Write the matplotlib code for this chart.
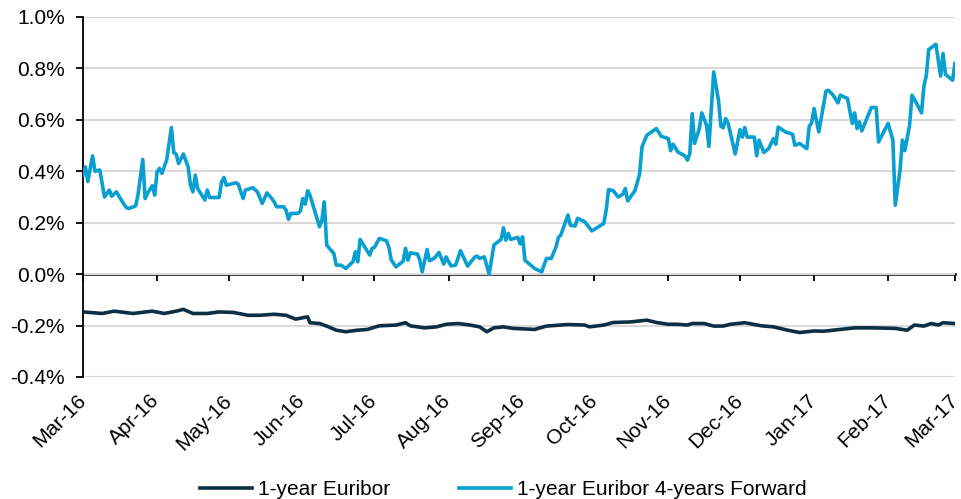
import pandas as pd
import matplotlib
matplotlib.use("Agg")
import matplotlib.pyplot as plt
import matplotlib.dates as mdates
import matplotlib.transforms as mtransforms
from matplotlib.ticker import FuncFormatter

START = pd.Timestamp("2016-03-01")

# 1-year Euribor 4-years Forward, % (days after 1 Mar 2016, value)
fwd_day = [0, 1, 2, 4, 5, 7, 9, 11, 12, 14, 16, 18, 19, 22, 23, 25, 26, 27, 29, 30,
           31, 32, 33, 35, 37, 38, 39, 40, 42, 44, 45, 46, 47, 48, 51, 52, 53, 57, 58, 59,
           60, 64, 65, 67, 68, 71, 73, 75, 77, 79, 80, 81, 84, 85, 86, 87, 90, 91, 92, 93,
           94, 95, 99, 100, 101, 102, 105, 106, 108, 110, 113, 114, 115, 116, 120, 121, 122, 124, 127, 128,
           129, 131, 134, 135, 136, 137, 140, 141, 142, 144, 145, 147, 149, 151, 152, 154, 156, 158, 161, 164,
           165, 166, 168, 170, 172, 175, 176, 177, 178, 179, 182, 183, 184, 185, 189, 192, 194, 196, 198, 199,
           200, 203, 204, 206, 207, 210, 213, 218, 219, 220, 222, 224, 226, 227, 228, 231, 232, 233, 234, 236,
           238, 240, 242, 245, 246, 247, 249, 252, 253, 254, 255, 256, 258, 259, 261, 262, 264, 266, 267, 268,
           269, 270, 273, 275, 276, 277, 278, 281, 282, 283, 285, 287, 289, 290, 291, 294, 297, 298, 300, 303,
           304, 305, 306, 308, 311, 312, 314, 316, 317, 320, 322, 323, 324, 325, 326, 330, 332, 333, 337, 339,
           340, 342, 343, 344, 346, 347, 349, 351, 352, 353, 354, 357, 359, 360, 361, 364, 365]
fwd_val = [0.385, 0.417, 0.36, 0.46, 0.40, 0.405, 0.30, 0.327, 0.303, 0.32, 0.288, 0.26, 0.255, 0.265, 0.307, 0.446, 0.294, 0.314, 0.344, 0.307,
           0.398, 0.411, 0.392, 0.443, 0.57, 0.472, 0.467, 0.43, 0.467, 0.417, 0.346, 0.32, 0.385, 0.333, 0.288, 0.327, 0.298, 0.298, 0.359, 0.376,
           0.346, 0.355, 0.35, 0.294, 0.327, 0.336, 0.32, 0.275, 0.316, 0.294, 0.281, 0.262, 0.262, 0.249, 0.213, 0.236, 0.236, 0.246, 0.294, 0.272,
           0.324, 0.307, 0.184, 0.21, 0.281, 0.113, 0.08, 0.035, 0.035, 0.022, 0.048, 0.087, 0.048, 0.135, 0.074, 0.10, 0.104, 0.139, 0.13, 0.106,
           0.056, 0.028, 0.05, 0.10, 0.054, 0.083, 0.078, 0.054, 0.009, 0.096, 0.052, 0.061, 0.084, 0.039, 0.067, 0.032, 0.035, 0.091, 0.031, 0.067,
           0.07, 0.061, 0.067, 0.0, 0.113, 0.135, 0.18, 0.132, 0.158, 0.135, 0.143, 0.117, 0.145, 0.054, 0.022, 0.009, 0.061, 0.061, 0.106, 0.143,
           0.152, 0.23, 0.19, 0.187, 0.217, 0.204, 0.168, 0.197, 0.249, 0.329, 0.324, 0.30, 0.311, 0.333, 0.285, 0.324, 0.355, 0.391, 0.495, 0.54,
           0.553, 0.566, 0.536, 0.527, 0.48, 0.505, 0.475, 0.459, 0.443, 0.469, 0.624, 0.508, 0.566, 0.627, 0.579, 0.497, 0.786, 0.676, 0.575, 0.569,
           0.605, 0.588, 0.467, 0.562, 0.533, 0.57, 0.533, 0.533, 0.46, 0.521, 0.473, 0.488, 0.527, 0.505, 0.572, 0.553, 0.544, 0.501, 0.508, 0.488,
           0.575, 0.588, 0.644, 0.553, 0.712, 0.715, 0.696, 0.666, 0.696, 0.683, 0.586, 0.627, 0.566, 0.592, 0.557, 0.648, 0.648, 0.514, 0.586, 0.521,
           0.268, 0.404, 0.521, 0.48, 0.579, 0.696, 0.663, 0.627, 0.731, 0.773, 0.873, 0.894, 0.77, 0.858, 0.777, 0.754, 0.819]

# 1-year Euribor, %
eur_day = [0, 8, 13, 21, 29, 34, 39, 42, 46, 52, 57, 63, 69, 74, 80, 85, 89, 94, 95, 99,
           102, 106, 110, 115, 119, 124, 131, 135, 137, 143, 148, 152, 157, 162, 166, 169, 172, 176, 180, 189,
           194, 203, 210, 212, 218, 222, 229, 236, 240, 245, 249, 253, 255, 260, 264, 268, 271, 277, 284, 289,
           295, 300, 306, 310, 317, 323, 331, 340, 345, 348, 352, 355, 358, 360, 365]
eur_val = [-0.147, -0.153, -0.144, -0.153, -0.144, -0.153, -0.144, -0.137, -0.153, -0.153, -0.147, -0.149, -0.16, -0.16, -0.156, -0.16, -0.175, -0.166, -0.189, -0.192,
           -0.202, -0.218, -0.224, -0.218, -0.215, -0.201, -0.198, -0.189, -0.201, -0.209, -0.205, -0.195, -0.192, -0.198, -0.205, -0.224, -0.209, -0.205, -0.211, -0.215,
           -0.202, -0.196, -0.198, -0.205, -0.198, -0.188, -0.186, -0.179, -0.188, -0.195, -0.195, -0.198, -0.192, -0.192, -0.202, -0.202, -0.195, -0.189, -0.201, -0.205,
           -0.218, -0.227, -0.221, -0.222, -0.215, -0.209, -0.209, -0.211, -0.218, -0.198, -0.202, -0.192, -0.198, -0.189, -0.192]

fwd_dates = START + pd.to_timedelta(fwd_day, unit="D")
eur_dates = START + pd.to_timedelta(eur_day, unit="D")

plt.rcParams['font.family'] = ['Liberation Sans', 'DejaVu Sans']

fig = plt.figure(figsize=(9.62, 4.99), dpi=100)
ax = fig.add_axes([0.0863, 0.2445, 0.9064, 0.7215])

ax.plot(eur_dates, eur_val, color='#0c2f45', lw=2.6, label='1-year Euribor', zorder=3)
ax.plot(fwd_dates, fwd_val, color='#0a9fd1', lw=2.6, label='1-year Euribor 4-years Forward', zorder=3)

ax.set_ylim(-0.4, 1.0)
ax.set_yticks([-0.4, -0.2, 0.0, 0.2, 0.4, 0.6, 0.8, 1.0])
ax.yaxis.set_major_formatter(FuncFormatter(lambda v, p: f'{v:.1f}%'))
ax.set_xlim(START, pd.Timestamp("2017-03-01"))

months = pd.date_range("2016-03-01", "2017-03-01", freq="MS")
ax.set_xticks(months)
ax.xaxis.set_major_formatter(mdates.DateFormatter('%b-%y'))
ax.tick_params(axis='x', length=0, pad=10, labelsize=15)
shift = mtransforms.ScaledTranslation(-7 / 100, 0, fig.dpi_scale_trans)
for lab in ax.get_xticklabels():
    lab.set_rotation(45)
    lab.set_ha('right')
    lab.set_rotation_mode('anchor')
    lab.set_transform(lab.get_transform() + shift)
ax.tick_params(axis='y', length=5, width=1.3, labelsize=15, pad=8)

ax.grid(axis='y', color='#d9d9d9', lw=1.5)
ax.set_axisbelow(True)
for s in ['top', 'right', 'bottom']:
    ax.spines[s].set_visible(False)
ax.spines['left'].set_linewidth(1.3)

# zero line with month ticks
zero = ax.secondary_xaxis(0.4 / 1.4)
zero.set_xticks(months)
zero.set_xticklabels([])
zero.tick_params(length=5, width=1.3)
zero.spines['bottom'].set_linewidth(1.8)

fig.legend(loc='lower center', bbox_to_anchor=(0.523, -0.038), ncol=2, frameon=False,
           fontsize=15, handlelength=2.5, columnspacing=3.3, handletextpad=0.3)

fig.savefig("out.png", dpi=100)
